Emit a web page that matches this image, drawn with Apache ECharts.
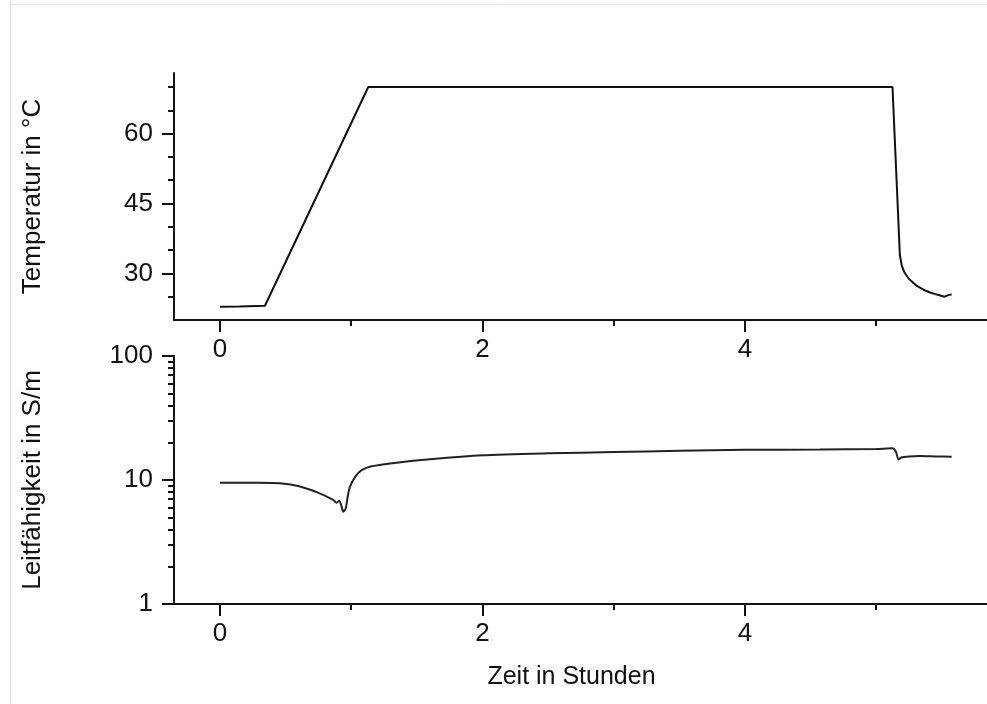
<!DOCTYPE html>
<html>
<head>
<meta charset="utf-8">
<title>Temperatur und Leitfähigkeit</title>
<script src="https://cdn.jsdelivr.net/npm/echarts@6/dist/echarts.min.js"></script>
<style>
  html, body { margin: 0; padding: 0; background: #fff; }
  #main { width: 987px; height: 704px; }
</style>
</head>
<body>
<div id="main"></div>
<script>
// Temperaturverlauf (Zeit in h, Temperatur in °C)
const tempTime = [0, 0.15, 0.343, 1.13, 5.124, 5.18, 5.195, 5.215, 5.25, 5.31, 5.36, 5.41, 5.47, 5.52, 5.545, 5.575];
const tempValues = [22.85, 22.9, 23.05, 70, 70, 34, 31.6, 30.2, 28.8, 27.3, 26.5, 25.9, 25.4, 25.0, 25.3, 25.5];

// Leitfähigkeit (Zeit in h, S/m)
const condTime = [0, 0.3, 0.457, 0.61, 0.76, 0.863, 0.889, 0.909, 0.927, 0.94, 0.958, 0.973, 0.99, 1.03, 1.08, 1.155, 1.346, 1.6, 2, 2.5, 3, 3.5, 4, 4.57, 5, 5.124, 5.15, 5.17, 5.19, 5.25, 5.33, 5.45, 5.575];
const condValues = [9.5, 9.5, 9.4, 8.85, 7.8, 6.9, 6.55, 6.8, 6.1, 5.55, 5.9, 7.3, 8.8, 10.6, 12.0, 12.9, 13.8, 14.7, 15.8, 16.4, 16.8, 17.2, 17.5, 17.6, 17.8, 18.0, 16.9, 14.6, 15.2, 15.5, 15.6, 15.5, 15.4];

const xMajorTicks = [0, 2, 4];
const xMinorTicks = [1, 3, 5];
const tempMajorTicks = [30, 45, 60];
const tempMinorTicks = [25, 35, 40, 50, 55, 65, 70];
const condMinorTicks = [2, 3, 4, 5, 6, 7, 8, 9, 20, 30, 40, 50, 60, 70, 80, 90];

const font = 'Liberation Sans, Arial, Helvetica, sans-serif';
const ink = '#111';
const lineStyle = { color: ink, width: 2 };

// Zeitachse mit Linie, Hauptstrichen und Beschriftung
function xAxisMain(grid, name) {
  return {
    type: 'value', gridIndex: grid, position: 'bottom', min: -0.35, max: 5.844,
    axisLine: { show: true, onZero: false, lineStyle: lineStyle },
    axisTick: { show: true, length: 12, customValues: xMajorTicks, lineStyle: lineStyle },
    axisLabel: { customValues: xMajorTicks, margin: 17, color: ink, fontSize: 26, fontFamily: font },
    splitLine: { show: false },
    name: name || '',
    nameLocation: 'middle',
    nameGap: 61,
    nameTextStyle: { color: ink, fontSize: 25, fontFamily: font, padding: [0, 18, 0, 0] }
  };
}
// nur Zwischenstriche
function xAxisMinor(grid) {
  return {
    type: 'value', gridIndex: grid, position: 'bottom', min: -0.35, max: 5.844,
    axisLine: { show: false, onZero: false },
    axisTick: { show: true, length: 6, customValues: xMinorTicks, lineStyle: lineStyle },
    axisLabel: { show: false },
    splitLine: { show: false }
  };
}

const option = {
  animation: false,
  backgroundColor: '#fff',
  grid: [
    { left: 174, top: 73, right: 0, height: 247 },
    { left: 174, top: 356, right: 0, height: 248 }
  ],
  xAxis: [
    xAxisMain(0),
    xAxisMinor(0),
    xAxisMain(1, 'Zeit in Stunden'),
    xAxisMinor(1)
  ],
  yAxis: [
    {
      type: 'value', gridIndex: 0, position: 'left', min: 20, max: 73,
      axisLine: { show: true, onZero: false, lineStyle: lineStyle },
      axisTick: { show: true, length: 12, customValues: tempMajorTicks, lineStyle: lineStyle },
      axisLabel: { customValues: tempMajorTicks, margin: 21, color: ink, fontSize: 26, fontFamily: font },
      splitLine: { show: false },
      name: 'Temperatur in °C', nameLocation: 'middle', nameGap: 128,
      nameTextStyle: { color: ink, fontSize: 26, fontFamily: font }
    },
    {
      type: 'value', gridIndex: 0, position: 'left', min: 20, max: 73,
      axisLine: { show: false, onZero: false },
      axisTick: { show: true, length: 6, customValues: tempMinorTicks, lineStyle: lineStyle },
      axisLabel: { show: false },
      splitLine: { show: false }
    },
    {
      type: 'log', logBase: 10, gridIndex: 1, position: 'left', min: 1, max: 100,
      axisLine: { show: true, onZero: false, lineStyle: lineStyle },
      axisTick: { show: true, length: 12, lineStyle: lineStyle },
      axisLabel: { margin: 21, color: ink, fontSize: 26, fontFamily: font },
      splitLine: { show: false },
      name: 'Leitfähigkeit in S/m', nameLocation: 'middle', nameGap: 128,
      nameTextStyle: { color: ink, fontSize: 26, fontFamily: font }
    },
    {
      type: 'log', logBase: 10, gridIndex: 1, position: 'left', min: 1, max: 100,
      axisLine: { show: false, onZero: false },
      axisTick: { show: true, length: 6, customValues: condMinorTicks, lineStyle: lineStyle },
      axisLabel: { show: false },
      splitLine: { show: false }
    }
  ],
  graphic: [
    { type: 'line', shape: { x1: 10.5, y1: 0, x2: 10.5, y2: 704 }, style: { stroke: '#ddd', lineWidth: 1 } },
    { type: 'line', shape: { x1: 10, y1: 4.5, x2: 987, y2: 4.5 }, style: { stroke: '#e4e4e4', lineWidth: 1 } }
  ],
  series: [
    {
      name: 'Temperatur', type: 'line', xAxisIndex: 0, yAxisIndex: 0,
      showSymbol: false, lineStyle: lineStyle,
      data: tempTime.map((t, i) => [t, tempValues[i]])
    },
    {
      name: 'Leitfähigkeit', type: 'line', xAxisIndex: 2, yAxisIndex: 2,
      showSymbol: false, smooth: 0.25, lineStyle: { color: '#222', width: 2 },
      data: condTime.map((t, i) => [t, condValues[i]])
    }
  ]
};

const chart = echarts.init(document.getElementById('main'), null, { renderer: 'canvas' });
chart.setOption(option);
</script>
</body>
</html>
